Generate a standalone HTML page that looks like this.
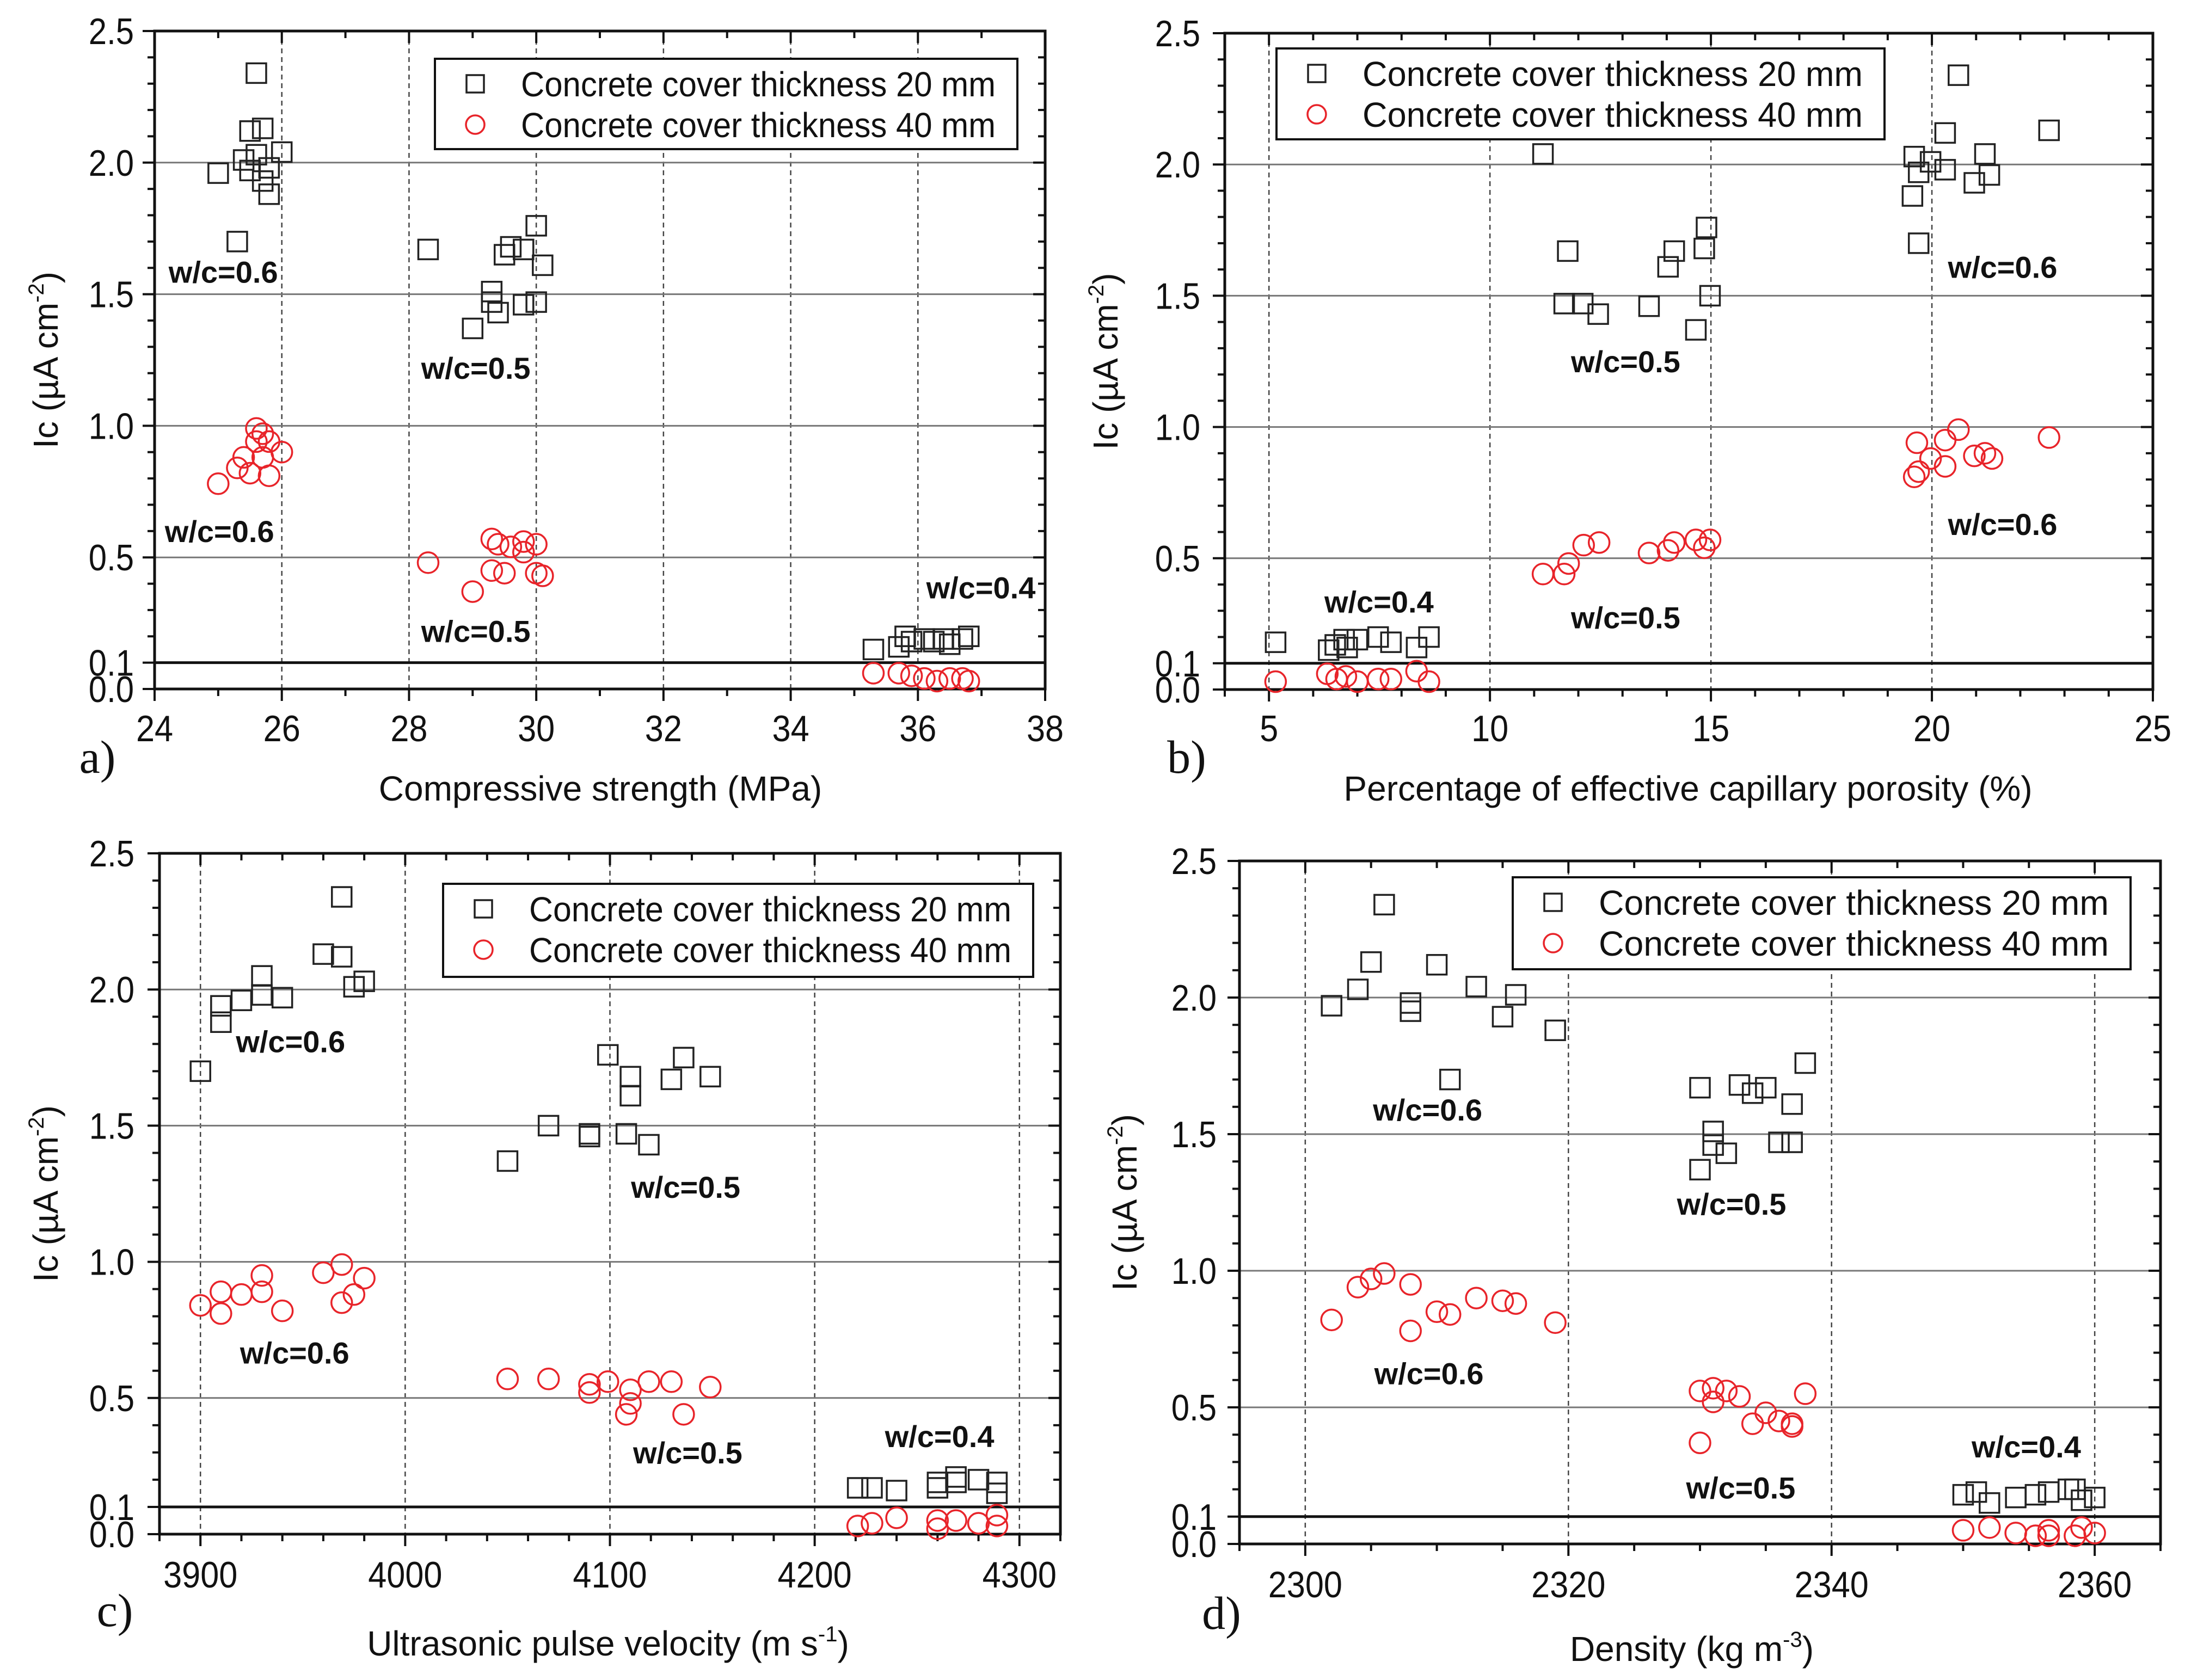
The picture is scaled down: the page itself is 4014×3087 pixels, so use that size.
<!DOCTYPE html>
<html><head><meta charset="utf-8"><style>
html,body{margin:0;padding:0;background:#fff;}
svg{display:block;font-family:"Liberation Sans",Arial,sans-serif;}
</style></head><body>
<svg id="fig" width="4014" height="3087" viewBox="0 0 4014 3087" xmlns="http://www.w3.org/2000/svg"></svg>
<script>
// ---- Panel a: compressive strength ----
const aSqX=[25.6,25.5,25.7,25.4,25.6,25.0,25.5,25.8,26.0,25.7,25.8,25.3, 28.3,29.5,29.6,29.8,30.0,30.1,29.3,29.3,29.4,29.8,30.0,29.0, 35.3,35.7,35.8,35.9,36.1,36.25,36.4,36.5,36.7,36.8];
const aSqY=[2.34,2.12,2.13,2.01,2.03,1.96,1.97,1.98,2.04,1.93,1.88,1.70, 1.67,1.65,1.68,1.67,1.76,1.61,1.51,1.47,1.43,1.46,1.47,1.37, 0.15,0.16,0.20,0.18,0.19,0.18,0.19,0.17,0.19,0.20];
const aCiX=[25.6,25.7,25.8,25.6,26.0,25.4,25.7,25.3,25.5,25.8,25.0, 28.3,29.3,29.4,29.6,29.8,30.0,29.8,29.3,29.5,30.0,30.1,29.0, 35.3,35.7,35.9,36.1,36.3,36.5,36.7,36.8];
const aCiY=[0.99,0.97,0.94,0.94,0.90,0.88,0.88,0.84,0.82,0.81,0.78, 0.48,0.57,0.55,0.54,0.56,0.55,0.52,0.45,0.44,0.44,0.43,0.37, 0.06,0.06,0.05,0.04,0.03,0.04,0.04,0.03];
// ---- Panel b: porosity ----
const bSqX=[20.6,22.65,20.3,19.6,19.97,21.2,19.7,20.3,20.96,21.3,19.56,19.7, 11.2,11.76,11.68,12.1,12.45,13.6,14.03,14.17,14.9,14.85,14.98,14.66, 5.15,6.35,6.5,6.7,7.0,7.47,7.76,8.34,8.62,6.77];
const bSqY=[2.34,2.13,2.12,2.03,2.01,2.04,1.97,1.98,1.93,1.96,1.88,1.70, 2.04,1.67,1.47,1.47,1.43,1.46,1.61,1.67,1.76,1.68,1.50,1.37, 0.18,0.15,0.17,0.19,0.19,0.20,0.18,0.16,0.20,0.16];
const bCiX=[20.6,19.66,20.3,22.65,19.97,20.96,21.2,21.36,20.3,19.6,19.7, 11.2,11.68,11.78,12.12,12.47,13.6,14.03,14.17,14.66,14.98,14.85, 5.15,6.32,6.53,6.74,7.0,7.47,7.76,8.34,8.62];
const bCiY=[0.99,0.94,0.95,0.96,0.88,0.89,0.90,0.88,0.85,0.81,0.83, 0.44,0.44,0.48,0.55,0.56,0.52,0.53,0.56,0.57,0.57,0.54, 0.03,0.06,0.04,0.05,0.03,0.04,0.04,0.07,0.03];
// ---- Panel c: ultrasonic pulse velocity ----
const cSqX=[3969,3960,3969,3930,3980,3975,3920,3930,3940,3910,3910,3900, 4099,4136,4110,4130,4149,4110,4070,4090,4108,4119,4050,4090, 4221,4228,4240,4260,4269,4269,4280,4289,4289,4260];
const cSqY=[2.34,2.13,2.12,2.05,2.03,2.01,1.96,1.98,1.97,1.94,1.88,1.70, 1.76,1.75,1.68,1.67,1.68,1.61,1.50,1.47,1.47,1.43,1.37,1.46, 0.17,0.17,0.16,0.19,0.21,0.19,0.20,0.19,0.15,0.17];
const cCiX=[3969,3960,3930,3980,3910,3930,3920,3975,3900,3969,3940,3910, 4050,4070,4090,4099,4119,4130,4149,4110,4090,4110,4108,4136, 4221,4228,4240,4260,4269,4280,4289,4289,4260];
const cCiY=[0.99,0.96,0.95,0.94,0.89,0.89,0.88,0.88,0.84,0.85,0.82,0.81, 0.57,0.57,0.55,0.56,0.56,0.56,0.54,0.53,0.52,0.48,0.44,0.44, 0.03,0.04,0.06,0.05,0.05,0.04,0.07,0.03,0.02];
// ---- Panel d: density ----
const dSqX=[2306,2305,2310,2304,2302,2308,2308,2313,2316,2315,2319,2311, 2330,2333,2334,2335,2338,2337,2331,2331,2332,2336,2337,2330, 2350,2351,2352,2354,2355.5,2356.5,2358,2358.5,2359,2360];
const dSqY=[2.34,2.13,2.12,2.03,1.97,1.98,1.95,2.04,2.01,1.93,1.88,1.70, 1.67,1.68,1.65,1.67,1.76,1.61,1.51,1.46,1.43,1.47,1.47,1.37, 0.18,0.19,0.15,0.17,0.18,0.19,0.20,0.20,0.16,0.17];
const dCiX=[2306,2305,2304,2308,2302,2308,2310,2311,2313,2315,2316,2319, 2330,2331,2332,2333,2331,2338,2335,2334,2336,2337,2337,2330, 2350,2352,2354,2355.5,2356.5,2356.5,2358.5,2359,2360];
const dCiY=[0.99,0.97,0.94,0.95,0.82,0.78,0.85,0.84,0.90,0.89,0.88,0.81, 0.56,0.57,0.56,0.54,0.52,0.55,0.48,0.44,0.45,0.44,0.43,0.37, 0.05,0.06,0.04,0.03,0.05,0.03,0.03,0.06,0.04];
// tick labels
const yTickVals=[0.0,0.1,0.5,1.0,1.5,2.0,2.5];
const aXTicks=[24,26,28,30,32,34,36,38];
const bXTicks=[5,10,15,20,25];
const cXTicks=[3900,4000,4100,4200,4300];
const dXTicks=[2300,2320,2340,2360];

const NS="http://www.w3.org/2000/svg";
const fig=document.getElementById('fig');
function mk(tag,attrs,parent){const e=document.createElementNS(NS,tag);for(const k in attrs)e.setAttribute(k,attrs[k]);(parent||fig).appendChild(e);return e;}
function cond(t,f){const w=t.getComputedTextLength();t.setAttribute('textLength',(w*f).toFixed(1));t.setAttribute('lengthAdjust','spacingAndGlyphs');}

const panels=[
 {id:'a',L:284,R:1920,T:57,B:1266,x0:24,x1:38,ticks:aXTicks,minor:1,grid:[26,28,30,32,34,36],
  sx:aSqX,sy:aSqY,cx:aCiX,cy:aCiY,title:'Compressive strength (MPa)',sup:'',tail:'',
  xt:1103,xty:1448,tly:1338,ylr:246,yt:83,letter:[179,1392],leg:[799,108,1070,166],
  labels:[[25.08,1.585,'0.6'],[25.02,0.60,'0.6'],[29.05,1.22,'0.5'],[29.05,0.22,'0.5'],[36.99,0.386,'0.4']]},
 {id:'b',L:2250,R:3955,T:61,B:1267,x0:4,x1:25,ticks:bXTicks,minor:1,grid:[5,10,15,20],
  sx:bSqX,sy:bSqY,cx:bCiX,cy:bCiY,title:'Percentage of effective capillary porosity (%)',sup:'',tail:'',
  xt:3101,xty:1448,tly:1338,ylr:2205,yt:2030,letter:[2180,1392],leg:[2345,89,1117,167],
  labels:[[21.6,1.61,'0.6'],[21.6,0.63,'0.6'],[13.07,1.25,'0.5'],[13.07,0.275,'0.5'],[7.49,0.335,'0.4']]},
 {id:'c',L:293,R:1948,T:1568,B:2819,x0:3880,x1:4320,ticks:cXTicks,minor:20,grid:[3900,4000,4100,4200,4300],
  sx:cSqX,sy:cSqY,cx:cCiX,cy:cCiY,title:'Ultrasonic pulse velocity (m s',sup:'-1',tail:')',
  xt:1117,xty:3019,tly:2893,ylr:247,yt:83,letter:[211,2960],leg:[814,1624,1084,171],
  labels:[[3944,1.81,'0.6'],[3946,0.666,'0.6'],[4137,1.275,'0.5'],[4138,0.30,'0.5'],[4261,0.36,'0.4']]},
 {id:'d',L:2277,R:3969,T:1582,B:2837,x0:2295,x1:2365,ticks:dXTicks,minor:5,grid:[2300,2320,2340,2360],
  sx:dSqX,sy:dSqY,cx:dCiX,cy:dCiY,title:'Density (kg m',sup:'-3',tail:')',
  xt:3108,xty:3029,tly:2911,ylr:2235,yt:2065,letter:[2244,2965],leg:[2779,1612,1135,169],
  labels:[[2309.3,1.59,'0.6'],[2309.4,0.625,'0.6'],[2332.4,1.245,'0.5'],[2333.1,0.206,'0.5'],[2354.8,0.357,'0.4']]}
];

panels.forEach(p=>{
  const g=mk('g',{});
  
  
  const X=v=>p.L+(v-p.x0)/(p.x1-p.x0)*(p.R-p.L);
  const Y=v=>p.B-v/2.5*(p.B-p.T);
  p.grid.forEach(v=>{const l=mk('line',{x1:X(v),x2:X(v),y1:p.T,y2:p.B,stroke:'#444','stroke-width':2.5,'stroke-dasharray':'9,7'},g);
    });
  [0.5,1.0,1.5,2.0].forEach(v=>{const l=mk('line',{x1:p.L,x2:p.R,y1:Y(v),y2:Y(v),stroke:'#777','stroke-width':3},g);
    });
  const th=mk('line',{x1:p.L,x2:p.R,y1:Y(0.1),y2:Y(0.1),stroke:'#111','stroke-width':5},g);
  
  const fr=mk('rect',{x:p.L,y:p.T,width:p.R-p.L,height:p.B-p.T,fill:'none',stroke:'#111','stroke-width':5},g);
  
  for(let v=p.x0;v<=p.x1+1e-9;v+=p.minor){
    const major=p.ticks.some(t=>Math.abs(t-v)<1e-6);
    const len=major?22:13;
    mk('line',{x1:X(v),x2:X(v),y1:p.B,y2:p.B+len,stroke:'#111','stroke-width':4},g);
    mk('line',{x1:X(v),x2:X(v),y1:p.T,y2:p.T+len,stroke:'#111','stroke-width':4},g);
  }
  p.ticks.forEach(v=>{const t=mk('text',{x:X(v),y:p.tly+24,'font-size':68,'text-anchor':'middle',fill:'#111'},g);t.textContent=String(v);
    cond(t,0.9);});
  for(let i=0;i<=25;i++){const v=i/10;const major=(i%5==0)||i==1;const len=major?22:13;
    mk('line',{x1:p.L-len,x2:p.L,y1:Y(v),y2:Y(v),stroke:'#111','stroke-width':4},g);
    mk('line',{x1:p.R-len,x2:p.R,y1:Y(v),y2:Y(v),stroke:'#111','stroke-width':4},g);}
  yTickVals.forEach(v=>{const t=mk('text',{x:p.ylr,y:Y(v)+24,'font-size':68,'text-anchor':'end',fill:'#111'},g);t.textContent=v.toFixed(1);
    cond(t,0.88);});
  const xt=mk('text',{x:p.xt,y:p.xty+23,'font-size':64,'text-anchor':'middle',fill:'#111'},g);
  
  xt.appendChild(document.createTextNode(p.title));
  if(p.sup){const s=mk('tspan',{'font-size':40,dy:-26},xt);s.textContent=p.sup;const s2=mk('tspan',{'font-size':64,dy:26},xt);s2.textContent=p.tail;}
  const yc=(p.T+p.B)/2;
  const yt=mk('text',{x:p.yt,y:yc,'font-size':64,'text-anchor':'middle',fill:'#111',transform:`rotate(-90 ${p.yt} ${yc})`,dy:23},g);
  
  yt.appendChild(document.createTextNode('Ic (\u00b5A cm'));
  const ys=mk('tspan',{'font-size':40,dy:-26},yt);ys.textContent='-2';
  const ys2=mk('tspan',{'font-size':64,dy:26},yt);ys2.textContent=')';
  const le=mk('text',{x:p.letter[0],y:p.letter[1]+28,'font-size':86,'text-anchor':'middle',fill:'#111','font-family':'"Liberation Serif",serif'},g);
  le.textContent=p.id+')';
  p.labels.forEach(l=>{const t=mk('text',{x:X(l[0]),y:Y(l[1])+20,'font-size':56,'font-weight':'bold','text-anchor':'middle',fill:'#111'},g);
    t.textContent='w/c='+l[2];});
  p.sx.forEach((v,i)=>{const r=mk('rect',{x:X(v)-18,y:Y(p.sy[i])-18,width:36,height:36,fill:'none',stroke:'#222','stroke-width':3.5},g);
    });
  p.cx.forEach((v,i)=>{const c=mk('circle',{cx:X(v),cy:Y(p.cy[i]),r:19,fill:'none',stroke:'#e8242a','stroke-width':3.5},g);
    });
  const [lx,ly,lw,lh]=p.leg;
  const lg=mk('g',{},g);
  mk('rect',{x:lx,y:ly,width:lw,height:lh,fill:'#fff',stroke:'#111','stroke-width':4},lg);
  mk('rect',{x:lx+58,y:ly+46-16,width:32,height:32,fill:'none',stroke:'#222','stroke-width':3.5},lg);
  mk('circle',{cx:lx+74,cy:ly+121,r:17,fill:'none',stroke:'#e8242a','stroke-width':3.5},lg);
  const t1=mk('text',{x:lx+158,y:ly+46+23,'font-size':64,fill:'#111'},lg);t1.textContent='Concrete cover thickness 20 mm';
  
  const t2=mk('text',{x:lx+158,y:ly+121+23,'font-size':64,fill:'#111'},lg);t2.textContent='Concrete cover thickness 40 mm';
  
  const tw=lw-158-40;cond(t1,1);t1.setAttribute('textLength',tw);cond(t2,1);t2.setAttribute('textLength',tw);
});
</script>
</body></html>
